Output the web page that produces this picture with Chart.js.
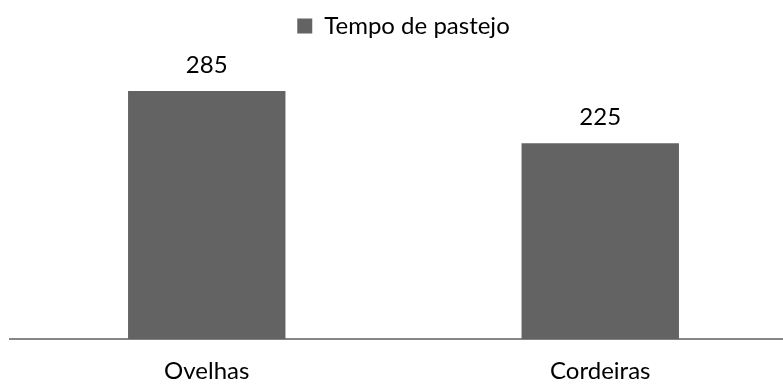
<!DOCTYPE html>
<html>
<head>
<meta charset="utf-8">
<script src="https://cdn.jsdelivr.net/npm/chart.js@4.4.1/dist/chart.umd.min.js"></script>
<style>
  html, body { margin: 0; padding: 0; background: #fff; overflow: hidden; }
  #wrap { position: relative; width: 810px; height: 385px; }
</style>
</head>
<body>
<div id="wrap"><canvas id="myChart"></canvas></div>
<script>
// chart data
const categories = ['Ovelhas', 'Cordeiras'];
const seriesName = 'Tempo de pastejo';
const tempoPastejo = [285, 225];

const barColor = '#636363';
const fontFamily = 'Lato, "Open Sans", sans-serif';
const fontSize = 24;

// draws the value above each bar
const valueLabels = {
  id: 'valueLabels',
  afterDatasetsDraw(chart) {
    const ctx = chart.ctx;
    const meta = chart.getDatasetMeta(0);
    ctx.save();
    ctx.fillStyle = '#000';
    ctx.font = fontSize + 'px ' + fontFamily;
    ctx.textAlign = 'center';
    ctx.textBaseline = 'alphabetic';
    meta.data.forEach((bar, i) => {
      ctx.fillText(String(tempoPastejo[i]), bar.x, bar.y - 18);
    });
    ctx.restore();
  }
};

// extra space between legend and plot
const legendGap = {
  id: 'legendGap',
  beforeInit(chart) {
    const fit = chart.legend.fit;
    chart.legend.fit = function () {
      fit.call(this);
      this.height += 30;
    };
  }
};

new Chart(document.getElementById('myChart'), {
  type: 'bar',
  data: {
    labels: categories,
    datasets: [{
      label: seriesName,
      data: tempoPastejo,
      backgroundColor: barColor,
      borderWidth: 0,
      barPercentage: 0.4,
      categoryPercentage: 1.0
    }]
  },
  options: {
    responsive: true,
    maintainAspectRatio: false,
    animation: false,
    layout: { padding: { left: 10, right: 13, top: 4, bottom: 0 } },
    plugins: {
      legend: {
        position: 'top',
        labels: {
          boxWidth: 15,
          boxHeight: 15,
          padding: 10,
          color: '#000',
          font: { family: fontFamily, size: fontSize }
        }
      },
      tooltip: { enabled: false }
    },
    scales: {
      x: {
        grid: { display: false, drawTicks: false },
        border: { display: true, color: '#868686', width: 2 },
        ticks: { color: '#000', padding: 18, font: { family: fontFamily, size: fontSize } },
        afterFit(scale) { scale.height -= 19; }
      },
      y: {
        display: false,
        min: 0,
        max: 300
      }
    }
  },
  plugins: [valueLabels, legendGap]
});
</script>
</body>
</html>
